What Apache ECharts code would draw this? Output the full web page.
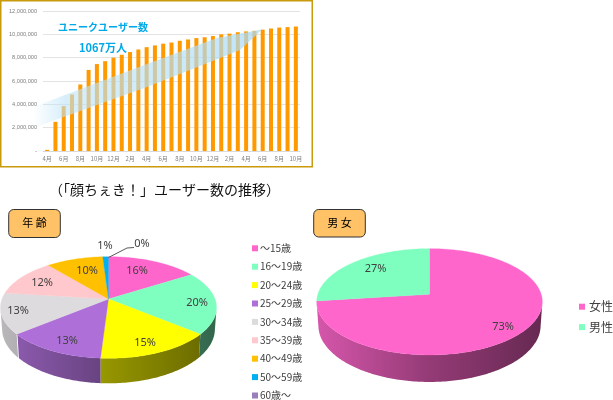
<!DOCTYPE html>
<html>
<head>
<meta charset="utf-8">
<style>html,body{margin:0;padding:0;background:#fff}#c{width:613px;height:400px}</style>
<script src="https://cdn.jsdelivr.net/npm/echarts@6/dist/echarts.min.js"></script>
</head>
<body>
<div id="c"></div>
<script>
// ---- data ----
const months = ['4月','5月','6月','7月','8月','9月','10月','11月','12月','1月','2月','3月','4月','5月','6月','7月','8月','9月','10月','11月','12月','1月','2月','3月','4月','5月','6月','7月','8月','9月','10月'];
const users = [100000,2500000,3850000,4850000,5700000,6950000,7450000,7700000,8000000,8250000,8480000,8700000,8900000,9050000,9200000,9300000,9450000,9560000,9680000,9750000,9850000,10000000,10060000,10180000,10250000,10300000,10400000,10500000,10580000,10620000,10670000];
const ageNames = ['～15歳','16～19歳','20～24歳','25～29歳','30～34歳','35～39歳','40～49歳','50～59歳','60歳～'];
const ageValues = [16,20,15,13,13,12,10,1,0];
const ageColors = ['#FF66CC','#7FFFBF','#FFFF00','#AE70D8','#DDDBDD','#FFC8CC','#FFC000','#00B0F0','#9A7DBD'];
const sexNames = ['女性','男性'];
const sexValues = [73,27];
const sexColors = ['#FF66CC','#7FFFBF'];

// ---- layout ----
const agePie = {cx:108.5, cy:299, b:106.5, a:49.4, p:0.1673, t:20.8};
const sexPie = {cx:429.5, cy:294.3, b:111.7, a:52.1, p:0.141, t:23.2};
const ageLabelAt = [[137,270.5],[197,302.5],[145,343],[67,341],[18,311],[42,282.5],[87,270.5],[105,245.5],[142,243.5]];
const sexLabelAt = [[503,327],[375.5,268.5]];
const labelFont = '"Noto Sans",sans-serif';
const cjkFont = '"Noto Sans CJK JP",sans-serif';

function shade(hex, k){
  const n = parseInt(hex.slice(1),16);
  const c = [n>>16&255, n>>8&255, n&255].map(v=>Math.round(v*k));
  return 'rgb('+c.join(',')+')';
}
// circle under a perspective projection: hub stays at (cx,cy), front is larger than back
function rim(P, deg, drop){
  const th = deg*Math.PI/180, u = Math.sin(th), v = -Math.cos(th), w = 1-P.p*v;
  const sx = drop ? 0.985 : 1;
  return {x:P.cx+P.b*u/w*sx, y:P.cy+P.a*v/w+(drop?P.t/w:0), u, v};
}
function sliceSeries(P, names, values, colors, labelAt){
  const total = values.reduce((a,b)=>a+b,0);
  const halfW = P.b/Math.sqrt(1-P.p*P.p);
  let acc = 0;
  return names.map((name,i)=>{
    const start = acc/total*360; acc += values[i];
    const end = acc/total*360;
    return {
      type:'custom', name, coordinateSystem:'none', silent:true,
      itemStyle:{color:colors[i]}, animation:false,
      data:[[values[i]]],
      renderItem(){
        const kids = [];
        // side wall: runs of rim points on the visible front
        let upper = [], lower = [];
        const flush = ()=>{
          if(upper.length>1){
            const fill = new echarts.graphic.LinearGradient(P.cx-halfW,0,P.cx+halfW,0,[
              {offset:0,color:shade(colors[i],0.84)},
              {offset:0.5,color:shade(colors[i],0.58)},
              {offset:1,color:shade(colors[i],0.4)}],true);
            kids.push({type:'polygon', z2:1, shape:{points:upper.concat(lower.reverse())}, style:{fill}});
          }
          upper=[]; lower=[];
        };
        for(let d=start; d<=end; d+=1){
          const a = rim(P,d);
          if(a.v>=P.p){
            const a2 = rim(P,d,true);
            upper.push([a.x,a.y]); lower.push([a2.x,a2.y]);
          } else flush();
        }
        flush();
        if(end>start){
          const pts = [[P.cx,P.cy]];
          for(let d=start; d<end; d+=1){const r=rim(P,d); pts.push([r.x,r.y]);}
          const r=rim(P,end); pts.push([r.x,r.y]);
          kids.push({type:'polygon', z2:2, shape:{points:pts}, style:{fill:colors[i], stroke:colors[i], lineWidth:0.3}});
        }
        kids.push({type:'text', z2:10, style:{text:values[i]+'%', x:labelAt[i][0], y:labelAt[i][1],
          align:'center', verticalAlign:'middle', fill:'#404040', font:'11px '+labelFont}});
        return {type:'group', children:kids};
      }
    };
  });
}

const chart = echarts.init(document.getElementById('c'), null, {renderer:'canvas'});
chart.setOption({
  animation:false,
  backgroundColor:'#fff',
  grid:{left:43, top:11, width:257, height:140, containLabel:false},
  xAxis:{type:'category', data:months,
    axisLine:{lineStyle:{color:'#D9D9D9'}}, axisTick:{show:false},
    axisLabel:{interval:1, fontSize:6, color:'#7F7F7F', margin:5, fontFamily:cjkFont}},
  yAxis:{type:'value', min:0, max:12000000, interval:2000000,
    axisLine:{show:false}, axisTick:{show:false},
    splitLine:{lineStyle:{color:'#E3E3E3'}},
    axisLabel:{fontSize:5.6, color:'#7F7F7F', margin:6, fontFamily:'"Liberation Sans",sans-serif',
      formatter:v=> v===0 ? '-' : v.toLocaleString('en-US')}},
  legend:[
    {orient:'vertical', left:252, top:242.3, height:175, padding:0, itemWidth:6, itemHeight:6, itemGap:6.4, icon:'rect',
     data:ageNames, selectedMode:false,
     textStyle:{fontSize:10, lineHeight:12, color:'#404040', fontFamily:cjkFont, padding:[0,0,0,-3]}},
    {orient:'vertical', left:579, top:298.5, padding:0, itemWidth:6, itemHeight:6, itemGap:4, icon:'rect',
     data:sexNames, selectedMode:false,
     textStyle:{fontSize:12, lineHeight:16.4, color:'#404040', fontFamily:cjkFont, padding:[0,0,0,-1]}}
  ],
  series:[
    {type:'bar', name:'ユニークユーザー数', data:users, barWidth:4, itemStyle:{color:'#FF9900'}, silent:true, z:2},
    ...sliceSeries(agePie, ageNames, ageValues, ageColors, ageLabelAt),
    ...sliceSeries(sexPie, sexNames, sexValues, sexColors, sexLabelAt)
  ],
  graphic:[
    {type:'rect', silent:true, z:0, shape:{x:0.75,y:0.75,width:311.5,height:166},
     style:{fill:'none', stroke:'#C99A0C', lineWidth:1.5}},
    {type:'polygon', silent:true, z:5,
     shape:{points:[[33,107],[147,64],[217,38],[262,29.5],[240,50],[200,66],[147,87],[33,128]]},
     style:{opacity:0.72, fill:new echarts.graphic.LinearGradient(0,0,1,0,[
       {offset:0,color:'rgba(190,228,248,0)'},
       {offset:0.14,color:'rgba(190,228,248,0.85)'},
       {offset:1,color:'rgba(170,218,244,1)'}])}},
    {type:'text', silent:true, z:6, style:{text:'ユニークユーザー数', x:58, y:27, verticalAlign:'middle',
      fill:'#00A8E8', font:'bold 10px '+cjkFont}},
    {type:'text', silent:true, z:6, style:{text:'1067万人', x:79, y:48, verticalAlign:'middle',
      fill:'#00A8E8', font:'bold 11px '+cjkFont}},
    {type:'text', silent:true, style:{text:'（「顔ちぇき！」ユーザー数の推移）', x:164.5, y:190, align:'center', verticalAlign:'middle',
      fill:'#111', font:'14px '+cjkFont}},
    {type:'rect', silent:true, shape:{x:8.7,y:209.5,width:51.6,height:28,r:5},
      style:{fill:'#FFC266', stroke:'#333', lineWidth:1}},
    {type:'text', silent:true, style:{text:'年 齢', x:34.5, y:223, align:'center', verticalAlign:'middle', fill:'#000', font:'11px '+cjkFont}, z:3},
    {type:'rect', silent:true, shape:{x:313.7,y:209.5,width:51.6,height:27.5,r:5},
      style:{fill:'#FFC266', stroke:'#333', lineWidth:1}},
    {type:'text', silent:true, style:{text:'男 女', x:339.5, y:222.5, align:'center', verticalAlign:'middle', fill:'#000', font:'11px '+cjkFont}, z:3},
    {type:'polyline', silent:true, z:8, shape:{points:[[108.5,257.5],[127,248],[134,247.5]]},
      style:{fill:'none', stroke:'#595959', lineWidth:1}}
  ]
});
</script>
</body>
</html>
